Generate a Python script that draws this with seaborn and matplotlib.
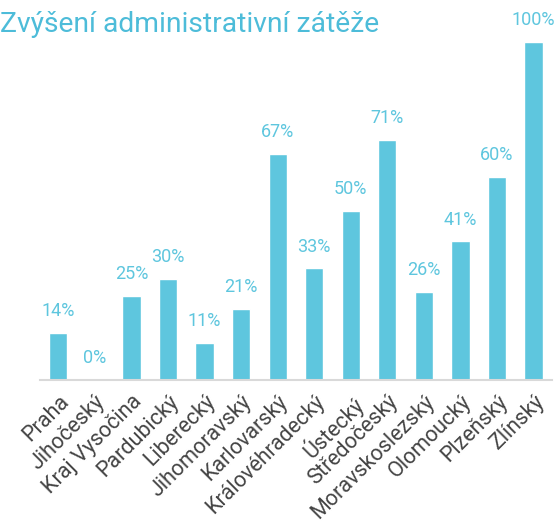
import matplotlib
matplotlib.use("Agg")
import matplotlib.pyplot as plt
import seaborn as sns
import pandas as pd

# data
kraje = ["Praha", "Jihočeský", "Kraj Vysočina", "Pardubický", "Liberecký",
         "Jihomoravský", "Karlovarský", "Královéhradecký", "Ústecký",
         "Středočeský", "Moravskoslezský", "Olomoucký", "Plzeňský", "Zlínský"]
hodnoty = [14, 0, 25, 30, 11, 21, 67, 33, 50, 71, 26, 41, 60, 100]

df = pd.DataFrame({"kraj": kraje, "hodnota": hodnoty})

sns.set_style("white")
plt.rcParams["font.family"] = ["Roboto", "DejaVu Sans"]

barva = "#5ec6de"
fig = plt.figure(figsize=(5.58, 5.21), dpi=100)
ax = fig.add_axes([0.0717, 0.2706, 0.9173, 0.6488])

sns.barplot(data=df, x="kraj", y="hodnota", color=barva, saturation=1,
            width=0.5, ax=ax)

for i, v in enumerate(hodnoty):
    ax.text(i, v + 3.8, f"{v}%", ha="center", va="bottom", fontsize=13,
            color="#5ec6de", clip_on=False)

ax.set_ylim(0, 100)
ax.set_xlim(-0.5, len(kraje) - 0.5)
ax.set_xlabel("")
ax.set_ylabel("")
ax.set_yticks([])
for s in ["top", "right", "left"]:
    ax.spines[s].set_visible(False)
ax.spines["bottom"].set_color("#d9d9d9")
ax.spines["bottom"].set_linewidth(1.5)
ax.tick_params(axis="x", length=0, pad=8)
plt.setp(ax.get_xticklabels(), rotation=45, ha="right", rotation_mode="anchor",
         fontsize=15.5, color="#444444")

fig.text(0.0, 0.978, "Zvýšení administrativní zátěže", ha="left", va="top",
         fontsize=20.3, color="#4dbcd9")

fig.savefig("out.png", dpi=100)
